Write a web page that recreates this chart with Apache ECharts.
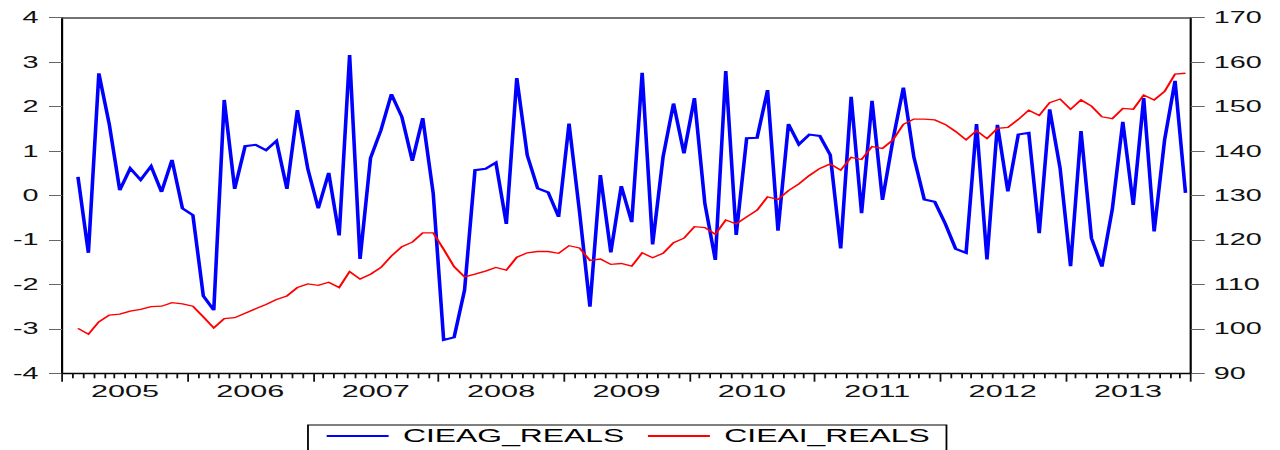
<!DOCTYPE html>
<html>
<head>
<meta charset="utf-8">
<script src="https://cdn.jsdelivr.net/npm/echarts@6/dist/echarts.min.js"></script>
<style>
  html, body { margin: 0; padding: 0; background: #fff; overflow: hidden; }
  #wrap { width: 1280px; height: 450px; overflow: hidden; }
  /* the chart is laid out narrow and stretched horizontally */
  #chart { height: 450px; transform-origin: 0 0; }
</style>
</head>
<body>
<div id="wrap"><div id="chart"></div></div>
<script>
// Years shown on the time axis (monthly observations)
const years = [2005, 2006, 2007, 2008, 2009, 2010, 2011, 2012, 2013];
const monthNames = ['01','02','03','04','05','06','07','08','09','10','11','12'];

// CIEAG_REALS, left axis, 2005M01 .. 2013M12 (no observation in 2005M01)
const cieagReals = [null,
  0.42, -1.29, 2.75, 1.60, 0.12, 0.61, 0.35, 0.66, 0.08, 0.80, -0.29,
  -0.44, -2.26, -2.58, 2.15, 0.15, 1.11, 1.14, 1.02, 1.23, 0.15, 1.92, 0.60,
  -0.29, 0.51, -0.90, 3.16, -1.43, 0.84, 1.47, 2.28, 1.77, 0.78, 1.74, 0.05,
  -3.25, -3.19, -2.13, 0.57, 0.60, 0.74, -0.64, 2.64, 0.91, 0.16, 0.07, -0.48,
  1.62, -0.36, -2.50, 0.46, -1.28, 0.21, -0.60, 2.76, -1.10, 0.87, 2.07, 0.95,
  2.19, -0.18, -1.45, 2.80, -0.89, 1.29, 1.30, 2.37, -0.79, 1.61, 1.15, 1.37,
  1.34, 0.91, -1.19, 2.22, -0.40, 2.13, -0.10, 1.25, 2.43, 0.87, -0.09, -0.14,
  -0.63, -1.20, -1.29, 1.61, -1.44, 1.59, 0.09, 1.37, 1.41, -0.85, 1.94, 0.61,
  -1.59, 1.45, -0.96, -1.60, -0.30, 1.66, -0.21, 2.19, -0.81, 1.25, 2.58, 0.06
];

// CIEAI_REALS, right axis, 2005M01 .. 2013M12 (no observation in 2005M01)
const cieaiReals = [null,
  100.1, 98.8, 101.6, 103.1, 103.3, 104.0, 104.4, 105.0, 105.1, 105.9, 105.6,
  105.1, 102.7, 100.2, 102.3, 102.5, 103.5, 104.5, 105.5, 106.6, 107.4, 109.3, 110.1,
  109.8, 110.5, 109.3, 112.9, 111.2, 112.3, 113.8, 116.4, 118.5, 119.5, 121.6, 121.6,
  117.9, 114.0, 111.7, 112.3, 113.0, 113.8, 113.2, 116.1, 117.1, 117.4, 117.4, 117.0,
  118.7, 118.2, 115.4, 115.7, 114.5, 114.7, 114.1, 117.1, 116.0, 117.0, 119.4, 120.4,
  123.0, 122.8, 121.3, 124.5, 123.6, 125.2, 126.7, 129.7, 129.1, 131.1, 132.6, 134.5,
  136.1, 137.1, 135.7, 138.6, 138.1, 141.0, 140.6, 142.5, 146.0, 147.2, 147.2, 147.0,
  146.0, 144.4, 142.5, 144.6, 142.8, 145.1, 145.3, 147.1, 149.2, 148.0, 150.9, 151.7,
  149.4, 151.5, 150.1, 147.7, 147.3, 149.6, 149.4, 152.6, 151.5, 153.4, 157.3, 157.5
];

const leftTicks = { min: -4, max: 4, interval: 1 };
const rightTicks = { min: 90, max: 170, interval: 10 };

// month categories, e.g. "2005M01"
const months = [];
years.forEach(y => monthNames.forEach(m => months.push(y + 'M' + m)));
const nMonths = months.length;

const STRETCH = 1.8;
const W = 1280 / STRETCH;
const el = document.getElementById('chart');
el.style.width = W + 'px';
el.style.transform = 'scaleX(' + STRETCH + ')';

const FONT = "'Liberation Sans', Arial, Helvetica, sans-serif";
const gridBox = { left: 34.6, right: 49.6, top: 17.7, bottom: 76.7 };

const chart = echarts.init(el, null, { renderer: 'svg', width: W, height: 450 });

chart.setOption({
  animation: false,
  backgroundColor: '#fff',
  textStyle: { fontFamily: FONT },
  grid: [
    Object.assign({}, gridBox),
    Object.assign({}, gridBox)
  ],
  xAxis: [
    { // year boundaries and month ticks
      type: 'value', gridIndex: 0, position: 'bottom',
      min: 0, max: nMonths, interval: 12,
      axisLine: { show: true, onZero: false, lineStyle: { color: '#000', width: 1.3 } },
      axisTick: { show: true, length: 8.4, lineStyle: { color: '#111', width: 1 } },
      minorTick: { show: true, splitNumber: 12, length: 5, lineStyle: { color: '#111', width: 1 } },
      axisLabel: { show: false },
      splitLine: { show: false }
    },
    { // monthly data axis, its line closes the frame at the top
      type: 'category', gridIndex: 0, position: 'top',
      data: months, boundaryGap: true,
      axisLine: { show: true, onZero: false, lineStyle: { color: '#444', width: 1.6 } },
      axisTick: { show: false },
      axisLabel: { show: false },
      splitLine: { show: false }
    },
    { // year labels centred in each year
      type: 'value', gridIndex: 1, position: 'bottom',
      min: 0, max: nMonths, interval: 6,
      axisLine: { show: false, onZero: false },
      axisTick: { show: false },
      splitLine: { show: false },
      axisLabel: {
        show: true, margin: 9, fontSize: 17, color: '#111', fontFamily: FONT,
        formatter: v => (v % 12 === 6 ? String(years[(v - 6) / 12]) : '')
      }
    }
  ],
  yAxis: [
    {
      type: 'value', gridIndex: 0, position: 'left',
      min: leftTicks.min, max: leftTicks.max, interval: leftTicks.interval,
      axisLine: { show: true, onZero: false, lineStyle: { color: '#000', width: 1.2 } },
      axisTick: { show: true, length: 7.4, lineStyle: { color: '#666', width: 1 } },
      axisLabel: { margin: 13.2, fontSize: 16, color: '#111', fontFamily: FONT },
      splitLine: { show: false }
    },
    {
      type: 'value', gridIndex: 0, position: 'right',
      min: rightTicks.min, max: rightTicks.max, interval: rightTicks.interval,
      axisLine: { show: true, onZero: false, lineStyle: { color: '#000', width: 1.2 } },
      axisTick: { show: true, length: 7.8, lineStyle: { color: '#666', width: 1 } },
      axisLabel: { margin: 12.8, fontSize: 16, color: '#111', fontFamily: FONT },
      splitLine: { show: false }
    },
    {
      type: 'value', gridIndex: 1, show: false, min: 0, max: 1
    }
  ],
  legend: {
    left: 171.1, top: 425,
    orient: 'horizontal',
    itemWidth: 34.4, itemHeight: 12, itemGap: 12.2,
    padding: [2, 9.4, 14, 9.4],
    borderColor: '#000', borderWidth: 1,
    itemStyle: { opacity: 0 },
    textStyle: { fontSize: 17.7, color: '#000', fontFamily: FONT, padding: [0, 0, 0, 3] },
    data: ['CIEAG_REALS', 'CIEAI_REALS']
  },
  series: [
    {
      name: 'CIEAG_REALS', type: 'line',
      xAxisIndex: 1, yAxisIndex: 0,
      data: cieagReals, symbol: 'none', connectNulls: false,
      lineStyle: { color: '#0000ff', width: 2.0, join: 'miter' },
      itemStyle: { color: '#0000ff' }
    },
    {
      name: 'CIEAI_REALS', type: 'line',
      xAxisIndex: 1, yAxisIndex: 1,
      data: cieaiReals, symbol: 'none', connectNulls: false,
      lineStyle: { color: '#ff0000', width: 1.3, join: 'miter' },
      itemStyle: { color: '#ff0000' }
    }
  ]
});
</script>
</body>
</html>
